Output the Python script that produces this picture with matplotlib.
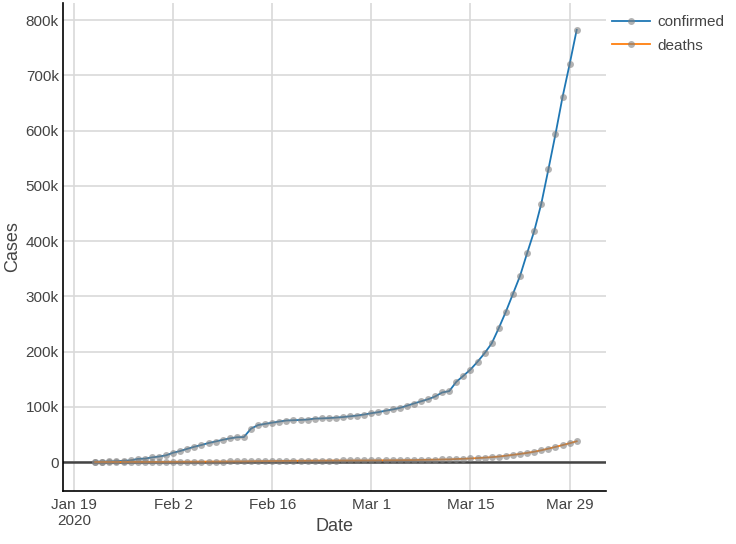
import datetime as dt
import matplotlib
matplotlib.use("Agg")
import matplotlib.pyplot as plt
import matplotlib.dates as md
from matplotlib.ticker import FuncFormatter

# global cumulative counts, Jan 22 - Mar 30 2020
start = dt.date(2020, 1, 22)
confirmed = [555, 654, 941, 1434, 2118, 2927, 5578, 6166, 8234, 9927,
             12038, 16787, 19887, 23898, 27643, 30802, 34395, 37129, 40159, 42762,
             44802, 45221, 60368, 66885, 69030, 71224, 73258, 75136, 75639, 76197,
             76819, 78572, 78958, 79561, 80406, 81388, 82746, 84112, 86011, 88369,
             90306, 92840, 95120, 97886, 101801, 105847, 109821, 113590, 118620, 125875,
             128352, 145205, 156101, 167454, 181574, 197102, 214821, 242570, 272208, 304507,
             336953, 378235, 418045, 467653, 529591, 593291, 660706, 720117, 782365]
deaths = [17, 18, 26, 42, 56, 82, 131, 133, 171, 213,
          259, 362, 426, 492, 564, 634, 719, 806, 906, 1013,
          1113, 1118, 1371, 1523, 1666, 1770, 1868, 2007, 2122, 2247,
          2251, 2458, 2469, 2629, 2708, 2770, 2814, 2872, 2941, 2996,
          3085, 3160, 3254, 3348, 3460, 3558, 3802, 3988, 4262, 4615,
          4720, 5404, 5819, 6440, 7126, 7905, 8733, 9867, 11299, 12973,
          14623, 16497, 18615, 21181, 24206, 27339, 30650, 33918, 37582]
dates = [start + dt.timedelta(days=i) for i in range(len(confirmed))]

tick_dates = [dt.date(2020, 1, 19), dt.date(2020, 2, 2), dt.date(2020, 2, 16),
              dt.date(2020, 3, 1), dt.date(2020, 3, 15), dt.date(2020, 3, 29)]
tick_labels = ["Jan 19\n2020", "Feb 2", "Feb 16", "Mar 1", "Mar 15", "Mar 29"]

plt.rcParams['font.family'] = ['Liberation Sans', 'DejaVu Sans']

fig = plt.figure(figsize=(7.36, 5.44), dpi=100)
ax = fig.add_axes([0.0856, 0.0974, 0.7374, 0.8971])

dot = (0.5, 0.5, 0.5, 0.6)
ax.plot(dates, confirmed, color='#1f77b4', lw=1.3, marker='o', ms=5,
        mfc=dot, mec='none', label='confirmed', zorder=3)
ax.plot(dates, deaths, color='#ff7f0e', lw=1.3, marker='o', ms=5,
        mfc=dot, mec='none', label='deaths', zorder=3)

ax.axhline(0, color='#444444', lw=1.8, zorder=2)

ax.set_xlim(md.date2num(dt.date(2020, 1, 19)) - 1.55, md.date2num(dt.date(2020, 4, 3)) + 0.1)
ax.set_ylim(-52500, 831000)
ax.set_xticks(tick_dates)
ax.set_xticklabels(tick_labels)
ax.set_yticks(range(0, 800001, 100000))
ax.yaxis.set_major_formatter(FuncFormatter(lambda v, p: "0" if v == 0 else "%dk" % (v / 1000)))

ax.grid(True, color='#d9d9d9', lw=1.2, zorder=0)
ax.set_axisbelow(True)
ax.tick_params(length=0, labelsize=11, labelcolor='#444444')
ax.tick_params(axis='y', pad=3)
ax.tick_params(axis='x', pad=5)
for s in ['top', 'right']:
    ax.spines[s].set_visible(False)
for s in ['left', 'bottom']:
    ax.spines[s].set_color('black')
    ax.spines[s].set_linewidth(1.2)

ax.set_xlabel('Date', fontsize=13, color='#444444')
ax.xaxis.set_label_coords(0.5, -0.056)
ax.set_ylabel('Cases', fontsize=13, color='#444444', ha='center', va='center')
ax.yaxis.set_label_coords(-0.092, 0.5)

ax.legend(loc='upper left', bbox_to_anchor=(1.0, 0.987), frameon=False,
          fontsize=11, labelcolor='#444444', handlelength=2.5, handletextpad=0.45,
          labelspacing=0.6, borderaxespad=0)

fig.savefig('out.png', dpi=100)
